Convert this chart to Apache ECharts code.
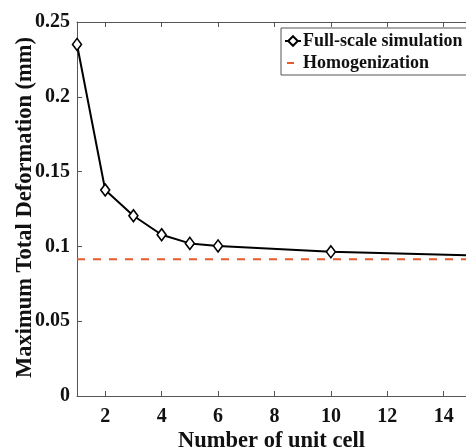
<!DOCTYPE html>
<html>
<head>
<meta charset="utf-8">
<script src="https://cdn.jsdelivr.net/npm/echarts@6/dist/echarts.min.js"></script>
<style>
html,body{margin:0;padding:0;background:#fff;}
#chart{width:466px;height:448px;}
</style>
</head>
<body>
<div id="chart"></div>
<script>
const cells = [1, 2, 3, 4, 5, 6, 10, 15];
const fullScale = [0.235, 0.1377, 0.1205, 0.1078, 0.102, 0.1003, 0.0964, 0.0940];
const homogenizationX = [1, 15];
const homogenizationValue = 0.0914;
const xTicks = [2, 4, 6, 8, 10, 12, 14];

const font = 'Liberation Serif';
const axisColor = '#555';

const chart = echarts.init(document.getElementById('chart'), null, {renderer: 'canvas'});
chart.setOption({
  backgroundColor: '#fff',
  animation: false,
  grid: {left: 77, right: 0, top: 22, bottom: 52, containLabel: false, outerBoundsMode: 'none'},
  legend: {
    left: 281, top: 28, orient: 'vertical',
    itemWidth: 16, itemHeight: 12, itemGap: 4,
    padding: [4, 30, 3, 3],
    borderColor: axisColor, borderWidth: 1,
    backgroundColor: '#fff',
    textStyle: {fontFamily: font, fontWeight: 'bold', fontSize: 18, color: '#111', padding: [0,0,0,-3]},
    data: [
      {name: 'Full-scale simulation'},
      {name: 'Homogenization', icon: 'path://M0,0 M16,12 M2,5 L9,5 L9,7 L2,7 Z'}
    ]
  },
  xAxis: [{
    type: 'value', min: 1, max: 14.79,
    name: 'Number of unit cell', nameLocation: 'middle', nameGap: 34, nameMoveOverlap: false,
    nameTextStyle: {fontFamily: font, fontWeight: 'bold', fontSize: 22.5, color: '#111'},
    axisLine: {show: true, lineStyle: {color: axisColor, width: 1}},
    axisTick: {show: true, inside: true, length: 5, customValues: xTicks, lineStyle: {color: axisColor}},
    axisLabel: {customValues: xTicks, fontFamily: font, fontWeight: 'bold', fontSize: 20, color: '#111', margin: 11},
    splitLine: {show: false}
  }, {
    type: 'value', min: 1, max: 14.79, position: 'top',
    axisLine: {show: true, onZero: false, lineStyle: {color: axisColor, width: 1}},
    axisTick: {show: true, inside: true, length: 5, customValues: xTicks, lineStyle: {color: axisColor}},
    axisLabel: {show: false},
    splitLine: {show: false}
  }],
  yAxis: {
    type: 'value', min: 0, max: 0.25, interval: 0.05,
    name: 'Maximum Total Deformation (mm)', nameLocation: 'middle', nameGap: 40, nameMoveOverlap: false,
    nameTextStyle: {fontFamily: font, fontWeight: 'bold', fontSize: 22.5, color: '#111', padding: [0,0,0,3]},
    axisLine: {show: true, lineStyle: {color: axisColor, width: 1}},
    axisTick: {show: true, inside: true, length: 5, lineStyle: {color: axisColor}},
    axisLabel: {fontFamily: font, fontWeight: 'bold', fontSize: 20, color: '#111', margin: 7},
    splitLine: {show: false}
  },
  series: [{
    name: 'Full-scale simulation', type: 'line',
    data: cells.map((c, i) => [c, fullScale[i]]),
    symbol: 'diamond', symbolSize: [9, 12], showAllSymbol: true,
    clip: true,
    lineStyle: {color: '#000', width: 2},
    itemStyle: {color: '#fff', borderColor: '#000', borderWidth: 1.6},
    z: 3
  }, {
    name: 'Homogenization', type: 'line',
    data: homogenizationX.map(x => [x, homogenizationValue]),
    symbol: 'none', clip: true,
    lineStyle: {color: '#e8592b', width: 2, type: [8, 8]},
    itemStyle: {color: '#e8592b'},
    z: 2
  }]
});
</script>
</body>
</html>
